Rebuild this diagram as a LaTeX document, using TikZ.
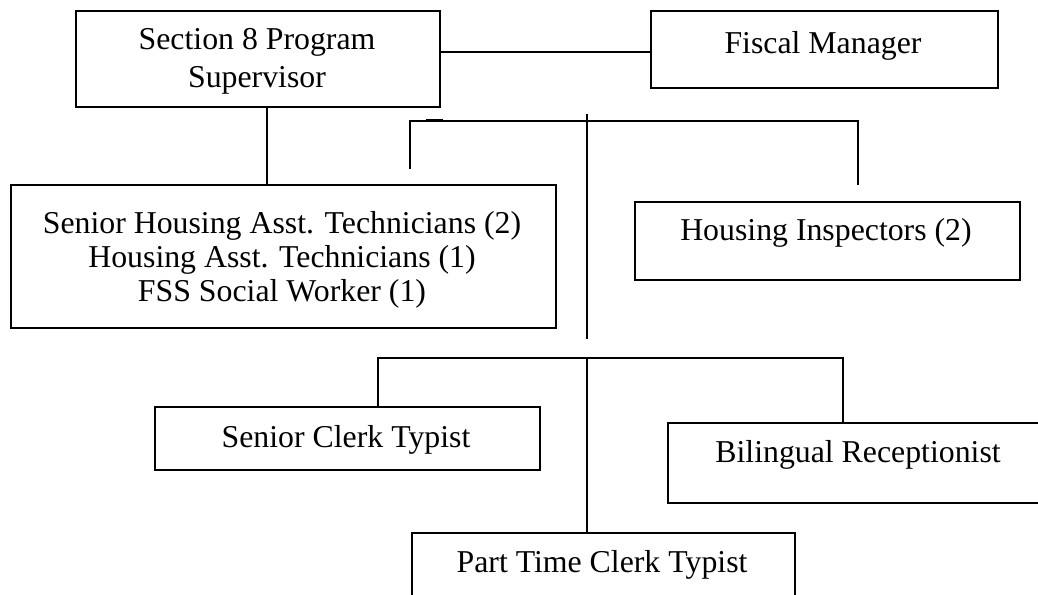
\documentclass[tikz,border=0pt]{standalone}
\usepackage{fontspec}
\setmainfont{Liberation Serif}
\begin{document}
\begin{tikzpicture}[x=1pt,y=-1pt,
  box/.style={draw, line width=1.8pt, inner sep=0pt, anchor=north west},
  conn/.style={line width=1.8pt},
  lbl/.style={anchor=base, inner sep=0pt, font=\fontsize{31.8}{36.6}\selectfont}]
\useasboundingbox (0,0) rectangle (1038,594);
\clip (0,0) rectangle (1038,594);
% boxes
\node[box, minimum width=364, minimum height=96] (sup) at (75,10) {};
\node[box, minimum width=347, minimum height=77] (fis) at (650,10) {};
\node[box, minimum width=545, minimum height=143] (shat) at (10,184) {};
\node[box, minimum width=385, minimum height=78] (hi) at (634,201) {};
\node[box, minimum width=385, minimum height=63] (sct) at (154,406) {};
\node[box, minimum width=400, minimum height=80] (brc) at (667,422) {};
\node[box, minimum width=383, minimum height=100] (ptc) at (411,532) {};
% texts
\node[lbl] (sup1) at (257,50) {Section 8 Program};
\node[lbl] (sup2) at (257,87) {Supervisor};
\node[lbl] (fis1) at (823,54) {Fiscal Manager};
\node[lbl] (sh1) at (282,233) {Senior Housing Asst. Technicians (2)};
\node[lbl] (sh2) at (282,267) {Housing Asst. Technicians (1)};
\node[lbl] (sh3) at (282,301) {FSS Social Worker (1)};
\node[lbl] (hi1) at (826,240) {Housing Inspectors (2)};
\node[lbl] (sct1) at (346,447) {Senior Clerk Typist};
\node[lbl] (brc1) at (858,462) {Bilingual Receptionist};
\node[lbl] (ptc1) at (602,572) {Part Time Clerk Typist};
% junction points
\coordinate (tl) at (410,121);
\coordinate (tr) at (858,121);
\coordinate (tltip) at (410,169);
\coordinate (trtip) at (858,185);
\coordinate (spinetop) at (587,114);
\coordinate (spinemid) at (587,339);
\coordinate (bl) at (378,358);
\coordinate (brr) at (843,358);
\coordinate (spine2) at (587,358);
\coordinate (ticka) at (426,120.3);
\coordinate (tickb) at (443,120.3);
% connectors
\draw[conn] (sup.east |- 0,52) -- (fis.west |- 0,52);
\draw[conn] (sup.south -| 267,0) -- (shat.north -| 267,0);
\draw[conn] (tltip) -- (tl) -- (tr) -- (trtip);
\draw[line width=3.2pt] (ticka) -- (tickb);
\draw[conn] (spinetop) -- (spinemid);
\draw[conn] (sct.north -| bl) -- (bl) -- (brr) -- (brc.north -| brr);
\draw[conn] (spine2) -- (ptc.north -| spine2);
\end{tikzpicture}
\end{document}
